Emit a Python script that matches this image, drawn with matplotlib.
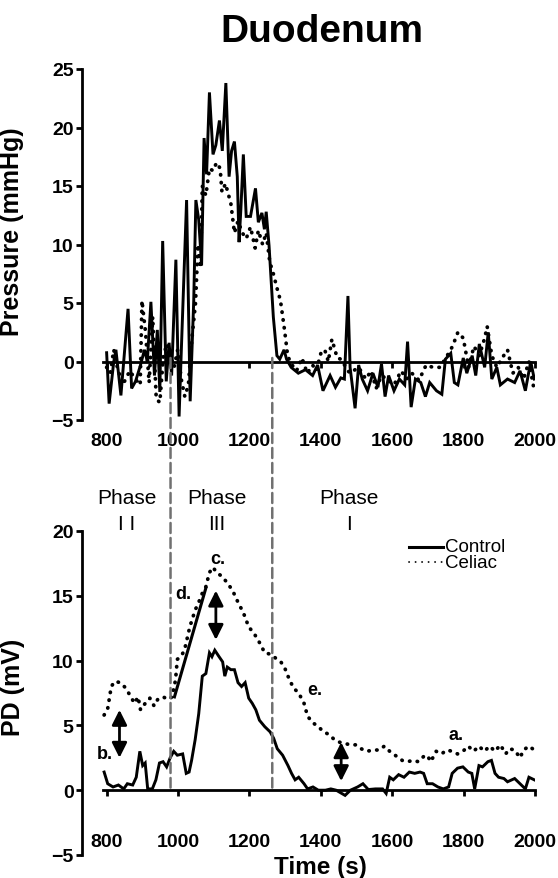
import numpy as np
import matplotlib
matplotlib.use("Agg")
import matplotlib.pyplot as plt
from matplotlib.patches import ConnectionPatch

plt.rcParams['font.family'] = ['Liberation Sans', 'DejaVu Sans']

# ---- top panel: pressure traces ----
ctrl_p_t = [800, 807, 820, 826, 840, 860, 870, 881, 894, 906, 914, 924, 934, 942, 949, 957, 967, 975, 982, 994,
            1003, 1009, 1024, 1034, 1044, 1050, 1058, 1066, 1073, 1080, 1088, 1098, 1106, 1116, 1124, 1134, 1143,
            1150, 1158, 1166, 1171, 1176, 1183, 1191, 1203, 1217, 1225, 1235, 1242, 1247, 1255, 1267, 1277, 1285,
            1297, 1304, 1317, 1337, 1357, 1377, 1391, 1406, 1426, 1441, 1456, 1466, 1476, 1482, 1496, 1506, 1516,
            1531, 1546, 1560, 1570, 1580, 1590, 1605, 1620, 1635, 1643, 1653, 1665, 1680, 1693, 1705, 1724, 1739,
            1749, 1764, 1774, 1784, 1799, 1809, 1824, 1834, 1844, 1859, 1869, 1879, 1893, 1903, 1923, 1943, 1958,
            1973, 1988, 1998]
ctrl_p = [0.75, -3.6, 0.0, 1.0, -2.9, 4.5, -2.3, -1.7, -0.4, 1.0, 0.0, 5.1, -1.2, 2.7, -2.6, 10.3, -1.7, 1.6, -1.2, 8.7,
          -4.7, 0.75, 13.8, -3.4, 5.2, 13.8, 12.1, 8.2, 19.1, 16.0, 23.0, 17.7, 18.5, 20.6, 18.0, 23.8, 15.8,
          18.0, 18.8, 15.8, 10.2, 13.0, 17.7, 12.4, 12.4, 14.8, 11.9, 12.7, 11.3, 12.8, 9.9, 3.8, 0.5, 0.2,
          1.0, 0.2, -0.5, -1.0, -0.7, -1.2, -0.3, -2.5, -1.2, -2.2, -1.4, -1.5, 5.6, -0.5, -4.0, -0.3, -1.5,
          -2.5, -1.0, -2.2, -0.2, -3.0, -1.2, -2.5, -1.5, -2.0, 1.7, -3.9, -1.5, -1.8, -3.0, -1.8, -2.5, -2.8,
          0.2, 0.7, -1.8, -2.0, 0.3, -1.0, 0.5, -1.2, 1.5, -0.5, 2.5, -1.5, -0.5, -2.0, -1.5, -1.8, -0.8,
          -2.5, 0.0, -1.5]

cel_p_t = [800, 810, 820, 830, 845, 865, 880, 894, 899, 909, 919, 929, 939, 949, 959, 969, 979, 989, 999, 1009,
           1019, 1029, 1039, 1049, 1056, 1063, 1068, 1078, 1088, 1098, 1108, 1118, 1123, 1133, 1148, 1158, 1168,
           1180, 1191, 1203, 1216, 1225, 1237, 1247, 1257, 1267, 1277, 1287, 1297, 1302, 1307, 1317, 1332, 1347,
           1362, 1377, 1387, 1401, 1411, 1421, 1431, 1446, 1456, 1481, 1506, 1526, 1541, 1555, 1570, 1585, 1605,
           1625, 1640, 1655, 1675, 1695, 1714, 1734, 1754, 1769, 1784, 1799, 1814, 1829, 1844, 1859, 1866, 1879,
           1893, 1908, 1923, 1938, 1953, 1968, 1983, 1998]
cel_p = [-0.5, -1.0, 1.0, -0.5, -2.0, -0.8, -1.5, -2.0, 5.2, 2.5, -1.8, 3.8, -3.2, -3.5, 0.5, 1.5, 0.5, -0.5, 1.0, -1.5,
         -3.0, -2.0, 2.0, 5.0, 10.0, 8.0, 15.0, 14.2, 16.5, 16.3, 17.0, 16.5, 14.5, 15.2, 13.5, 11.0, 12.0,
         11.0, 10.5, 11.5, 9.7, 11.2, 10.0, 11.0, 8.5, 7.5, 6.3, 5.2, 3.0, 1.8, 0.5, -0.2, -0.8, 0.3,
         -1.0, -0.3, -0.8, 0.8, 1.0, 0.0, 1.9, 0.3, 0.2, -1.0, -0.5, -1.5, -0.8, -2.3, -1.2, -1.5, -2.0,
         -0.8, -1.5, -1.0, -1.6, -0.3, -0.5, -0.5, 0.5, 1.3, 2.5, 2.0, -0.5, 1.3, 0.5, 2.0, 3.0, 0.5,
         -0.5, 0.3, 1.0, -1.0, -0.5, -1.5, 0.0, -2.5]

# ---- bottom panel: PD traces ----
ctrl_pd_t = [793, 803, 818, 833, 848, 858, 873, 883, 893, 901, 908, 915, 928, 938, 948, 958, 968, 978, 988, 998,
             1013, 1023, 1031, 1038, 1048, 1058, 1068, 1078, 1088, 1095, 1103, 1115, 1125, 1131, 1138, 1148, 1158,
             1168, 1178, 1188, 1198, 1208, 1218, 1228, 1243, 1258, 1268, 1278, 1293, 1308, 1318, 1328, 1338, 1353,
             1363, 1378, 1393, 1413, 1428, 1443, 1468, 1483, 1503, 1518, 1533, 1553, 1573, 1583, 1593, 1603, 1618,
             1633, 1648, 1663, 1678, 1688, 1698, 1713, 1728, 1743, 1758, 1768, 1783, 1798, 1813, 1823, 1831, 1843,
             1853, 1868, 1878, 1888, 1898, 1913, 1923, 1943, 1958, 1973, 1983, 1998]
ctrl_pd = [1.4, 0.5, 0.25, 0.4, 0.1, 0.5, 0.4, 1.0, 3.0, 1.9, 2.1, 0.1, 0.1, 0.8, 2.1, 2.2, 1.8, 2.5, 3.0, 2.7,
           2.8, 1.3, 1.4, 2.3, 3.9, 5.9, 8.8, 9.0, 10.6, 10.3, 10.8, 10.3, 9.9, 8.8, 9.5, 9.3, 9.3,
           8.3, 8.0, 8.3, 7.1, 6.7, 6.2, 5.4, 4.9, 4.5, 4.0, 3.2, 2.7, 1.9, 1.3, 0.8, 1.0, 0.5,
           0.1, 0.25, 0.0, 0.0, 0.1, 0.0, -0.4, 0.0, 0.25, 0.5, 0.05, 0.1, 0.1, -0.25, 1.0, 0.8, 1.2,
           1.0, 1.4, 1.3, 1.4, 1.3, 0.5, 0.5, 0.25, 0.1, 0.25, 1.3, 1.7, 1.8, 1.4, 1.3, 0.1, 1.9,
           1.8, 2.2, 2.3, 1.3, 1.0, 0.9, 0.65, 0.9, 0.5, 0.1, 1.0, 0.8]

cel_pd_t = [793, 803, 813, 823, 838, 853, 868, 878, 888, 895, 908, 921, 933, 943, 958, 973, 983, 993, 998, 1008,
            1018, 1033, 1048, 1058, 1068, 1078, 1088, 1098, 1108, 1123, 1138, 1153, 1168, 1183, 1198, 1213, 1228,
            1243, 1258, 1273, 1288, 1298, 1308, 1323, 1338, 1353, 1363, 1378, 1393, 1408, 1423, 1438, 1453, 1468,
            1483, 1498, 1513, 1528, 1548, 1563, 1578, 1593, 1608, 1618, 1628, 1643, 1658, 1673, 1688, 1698, 1708,
            1723, 1738, 1753, 1768, 1783, 1798, 1813, 1828, 1843, 1858, 1873, 1888, 1903, 1918, 1928, 1943, 1958,
            1968, 1983, 1998]
cel_pd = [5.8, 6.3, 8.0, 8.4, 8.3, 7.9, 7.2, 6.7, 7.2, 6.2, 6.7, 7.1, 6.5, 7.0, 7.2, 7.0, 7.2, 8.5, 10.1, 10.3,
          10.8, 12.6, 13.9, 14.5, 15.2, 15.7, 16.8, 17.2, 16.8, 16.5, 16.0, 15.4, 14.5, 13.7, 12.6, 12.1, 11.4,
          10.6, 10.5, 10.2, 9.9, 9.5, 8.8, 7.9, 7.5, 6.7, 5.7, 5.2, 4.9, 4.5, 4.3, 3.9, 3.7, 3.6,
          3.5, 3.5, 3.2, 3.0, 3.1, 3.1, 3.4, 3.0, 2.7, 2.5, 2.3, 2.2, 2.3, 2.2, 2.6, 2.7, 2.2,
          3.0, 2.8, 3.1, 3.0, 2.8, 3.0, 3.4, 3.0, 3.4, 3.0, 3.4, 3.0, 3.5, 2.8, 3.2, 3.1, 2.5,
          3.1, 3.4, 3.1]

phase_bounds = [979, 1264]
phase_labels = [("Phase", "I I", 856), ("Phase", "III", 1108), ("Phase", "I", 1478)]
slope_line = ([990, 1078], [7.2, 15.6])
arrows = [(836, 6.2, 2.5), (1106, 15.4, 11.6), (1457, 3.7, 0.7)]
letters = [("a.", 1778, 4.3), ("b.", 795, 2.8), ("c.", 1112, 17.9), ("d.", 1016, 15.2), ("e.", 1382, 7.8)]

W, H = 558, 879
fig = plt.figure(figsize=(W / 100, H / 100), dpi=100)

def px_axes(left, right, top, bottom):
    return fig.add_axes([left / W, 1 - bottom / H, (right - left) / W, (bottom - top) / H])

ax1 = px_axes(82, 535, 70, 421)
ax2 = px_axes(82, 535, 532, 856)

dot = dict(color='black', lw=2.7, linestyle=(0, (0.1, 2.0)), dash_capstyle='round')
solid = dict(color='black', lw=2.1, solid_joinstyle='miter')

def style(ax, ymin, ymax, pad):
    ax.set_xlim(731, 2000)
    ax.set_ylim(ymin, ymax)
    for s in ['top', 'right']:
        ax.spines[s].set_visible(False)
    ax.spines['left'].set_linewidth(2)
    ax.spines['bottom'].set_linewidth(2)
    ax.spines['bottom'].set_position(('data', 0))
    ax.spines['bottom'].set_bounds(789, 2000)
    ax.set_xticks([800, 1000, 1200, 1400, 1600, 1800, 2000])
    ax.tick_params(axis='both', width=2, length=4, labelsize=14)
    ax.tick_params(axis='x', pad=pad)
    ax.tick_params(axis='y', pad=2)
    for lab in ax.get_xticklabels() + ax.get_yticklabels():
        lab.set_fontweight('bold')
    ax.patch.set_visible(False)

ax1.plot(cel_p_t, cel_p, **dot)
ax1.plot(ctrl_p_t, ctrl_p, **solid)
ax1.set_yticks([-5, 0, 5, 10, 15, 20, 25])
style(ax1, -5, 25, 47)
ax1.set_ylabel("Pressure (mmHg)", fontsize=18, fontweight='bold')
ax1.yaxis.set_label_coords(-0.128, 0.54)

ax2.plot(cel_pd_t, cel_pd, **dot)
ax2.plot(ctrl_pd_t, ctrl_pd, **solid)
ax2.plot(slope_line[0], slope_line[1], color='black', lw=2.2)
ax2.set_yticks([-5, 0, 5, 10, 15, 20])
style(ax2, -5, 20, 27)
ax2.set_ylabel("PD (mV)", fontsize=18, fontweight='bold')
ax2.yaxis.set_label_coords(-0.125, 0.52)

for name, num, x in phase_labels:
    ax2.text(x, 22.6, name, ha='center', va='center', fontsize=15, clip_on=False)
    ax2.text(x, 20.6, num, ha='center', va='center', fontsize=15, clip_on=False)

for x, y0, y1 in arrows:
    ax2.annotate('', xy=(x, y1), xytext=(x, y0),
                 arrowprops=dict(arrowstyle='<|-|>,head_length=0.9,head_width=0.45',
                                 color='black', lw=2, shrinkA=0, shrinkB=0, mutation_scale=10))

for t, x, y in letters:
    ax2.text(x, y, t, ha='center', va='center', fontsize=13, fontweight='bold')

# legend drawn by hand, Prism style
ax2.plot([1648, 1741], [18.8, 18.8], color='black', lw=2.2)
ax2.plot([1648, 1741], [17.6, 17.6], color='black', lw=1.3, linestyle=(0, (0.1, 3.5)), dash_capstyle='round')
ax2.text(1747, 18.8, "Control", va='center', ha='left', fontsize=13.5)
ax2.text(1747, 17.6, "Celiac", va='center', ha='left', fontsize=13.5)

for xb in phase_bounds:
    con = ConnectionPatch(xyA=(xb, 0.3), coordsA=ax1.transData,
                          xyB=(xb, 0.2), coordsB=ax2.transData,
                          color='#707070', lw=1.8, linestyle=(0, (4, 2)))
    fig.add_artist(con)

fig.text(322 / W, 1 - 32 / H, "Duodenum", ha='center', va='center', fontsize=28, fontweight='bold')
fig.text(320 / W, 1 - 868 / H, "Time (s)", ha='center', va='center', fontsize=17.5, fontweight='bold')

fig.savefig("out.png", dpi=100)
